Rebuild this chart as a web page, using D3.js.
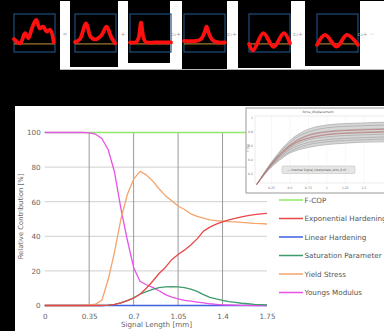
<!DOCTYPE html>
<html>
<head>
<meta charset="utf-8">
<script src="https://cdn.jsdelivr.net/npm/d3@7"></script>
<style>
  html, body { margin: 0; padding: 0; background: #000; }
  svg { display: block; }
  text { font-family: "DejaVu Sans", Verdana, sans-serif; }
</style>
</head>
<body>
<div id="chart"></div>
<script>
// Signal decomposition thumbnails: [x fraction, amplitude]
const signalTotal = [[0,0.16],[0.15,0.02],[0.27,0.36],[0.35,0.19],[0.44,0.53],[0.54,0.8],[0.63,0.52],[0.71,0.58],[0.8,0.41],[0.88,0.47],[0.97,0.06]];
const signalTerm0 = [[0,0.06],[0.12,0.16],[0.27,0.69],[0.38,0.24],[0.5,0.15],[0.65,0.3],[0.77,0.58],[0.88,0.24],[0.98,0.02]];
const signalTerm1 = [[0,0.05],[0.15,0.06],[0.21,0.2],[0.27,0.71],[0.33,0.2],[0.39,0.06],[0.6,0.05],[1,0.05]];
const signalTerm2 = [[0,0.1],[0.3,0.1],[0.42,0.17],[0.5,0.38],[0.55,0.58],[0.6,0.38],[0.68,0.15],[0.8,0.06],[1,0.05]];
const signalTerm3 = [[0,0.0],[0.1,-0.22],[0.35,0.36],[0.6,-0.1],[0.85,0.36],[1,0.02]];
const signalTerm4 = [[0,-0.03],[0.2,0.3],[0.48,-0.09],[0.73,0.3],[1,-0.03]];
const termLabels = ["\u2248", "+", "c\u2081+", "c\u2082+", "c\u2083+", "c\u2084+ \u00b7\u00b7\u00b7"];

// Main chart
const signalLength = [0,0.05,0.1,0.15,0.2,0.25,0.3,0.35,0.4,0.45,0.5,0.55,0.6,0.65,0.7,0.75,0.8,0.85,0.9,0.95,1.0,1.05,1.1,1.15,1.2,1.25,1.3,1.35,1.4,1.45,1.5,1.55,1.6,1.65,1.7,1.75];
const fCop =        [100,100,100,100,100,100,100,100,100,100,100,100,100,100,100,100,100,100,100,100,100,100,100,100,100,100,100,100,100,100,100,100,100,100,100,100];
const expHardening =[0,0,0,0,0,0,0,0,0,0,0.2,0.6,1.5,2.8,4.2,6.5,10,14,18.5,22,26.5,29.5,32,35,38.5,43,45.3,47,48.4,49.5,50.3,51.2,52,52.5,53,53.3];
const linHardening =[0,0,0,0,0,0,0,0,0,0,0,0,0,0,0,0,0,0,0,0,0,0,0,0,0,0,0,0,0,0,0,0,0,0,0,0];
const saturation =  [0,0,0,0,0,0,0,0,0,0,0.2,0.6,1.5,2.8,4.5,6.5,8,9.3,10.3,10.8,10.9,10.8,10.3,9.4,8.2,6.3,4.7,3.8,3,2.3,1.8,1.3,1.0,0.7,0.5,0.3];
const yieldStress = [0,0,0,0,0,0,0,0.3,0.8,3,15,31,50,64,73,77.5,75.5,72,67.5,63.5,60.5,57.5,55.5,53,51.5,50.5,49.5,49,48.8,48.5,48.3,48,47.8,47.5,47.3,47.1];
const youngs =      [100,100,100,100,100,100,100,99.8,99,96.5,90,77,56,38,22,14,12,10.5,8.5,6.3,4.8,3.8,3,2.5,2,1.5,1,0.7,0.4,0.3,0.2,0.1,0.1,0,0,0];
const xTicks = [0, 0.35, 0.7, 1.05, 1.4, 1.75];
const xTickLabels = ["0", "0.35", "0.7", "1.05", "1.4", "1.75"];
const yTicks = [0, 20, 40, 60, 80, 100];
const seriesNames = ["F-COP", "Exponential Hardening", "Linear Hardening", "Saturation Parameter", "Yield Stress", "Youngs Modulus"];
const seriesColors = ["#8ee86a", "#e8474b", "#3f5fe0", "#3f9a6c", "#f4a36a", "#e653e6"];

// Inset (force_displacement) curves
const insetX = [0.05,0.25,0.4,0.5,0.6,0.75,1.0,1.25,1.5,1.8];
const insetGray1 = [0.05,0.37,0.57,0.68,0.76,0.84,0.90,0.92,0.93,0.94];
const insetGray2 = [0.05,0.36,0.55,0.65,0.73,0.80,0.86,0.88,0.89,0.90];
const insetGray3 = [0.05,0.35,0.53,0.62,0.69,0.76,0.81,0.83,0.84,0.85];
const insetGray4 = [0.05,0.34,0.51,0.60,0.66,0.72,0.77,0.79,0.80,0.81];
const insetGray5 = [0.05,0.33,0.49,0.57,0.63,0.69,0.73,0.75,0.76,0.77];
const insetGray6 = [0.05,0.32,0.47,0.55,0.60,0.65,0.69,0.71,0.72,0.73];
const insetGray7 = [0.05,0.31,0.45,0.52,0.57,0.62,0.66,0.68,0.69,0.70];
const insetGray8 = [0.05,0.30,0.43,0.50,0.54,0.58,0.62,0.64,0.655,0.66];
const insetRed1 = [0.05,0.345,0.52,0.61,0.68,0.75,0.80,0.82,0.83,0.84];
const insetRed2 = [0.05,0.335,0.50,0.59,0.655,0.71,0.76,0.78,0.79,0.80];
const insetXTicks = [0.25, 0.5, 0.75, 1, 1.25, 1.5];
const insetYTicks = [0.2, 0.4, 0.6, 0.8, 1];

const W = 384, H = 331;
const svg = d3.select('#chart').append('svg').attr('width', W).attr('height', H);
svg.append('rect').attr('width', W).attr('height', H).attr('fill', '#000');

// ---- top strip ----
svg.append('rect').attr('x', 10).attr('y', 1).attr('width', W - 10).attr('height', 69).attr('fill', '#fff');
svg.append('line').attr('x1', 10).attr('x2', W).attr('y1', 69.5).attr('y2', 69.5).attr('stroke', '#bbb');

const blackPanels = [[0, 60, 70], [70, 118, 67], [128, 170, 63], [182, 227, 69], [238, 291, 68], [305, 360, 66]];
blackPanels.forEach(p => {
  svg.append('rect').attr('x', p[0]).attr('y', 0).attr('width', p[1] - p[0]).attr('height', p[2]).attr('fill', '#000');
});

const boxLefts = [14, 75, 130, 184, 249, 317];
const boxW = 41, boxTop = 14, boxBottom = 52;
const shapes = [signalTotal, signalTerm0, signalTerm1, signalTerm2, signalTerm3, signalTerm4];
const labelX = [65, 123, 176, 232, 298, 366];

shapes.forEach((shape, i) => {
  const px = d3.scaleLinear().domain([0, 1]).range([boxLefts[i], boxLefts[i] + boxW]);
  const py = d3.scaleLinear().domain([-0.27, 1]).range([boxBottom, boxTop]);
  const g = svg.append('g');
  g.append('rect').attr('x', boxLefts[i]).attr('y', boxTop).attr('width', boxW).attr('height', boxBottom - boxTop)
    .attr('fill', 'none').attr('stroke', '#1d4f7e').attr('stroke-width', 1.2);
  g.append('line').attr('x1', boxLefts[i]).attr('x2', boxLefts[i] + boxW).attr('y1', py(0)).attr('y2', py(0))
    .attr('stroke', '#c9943a').attr('stroke-width', 1);
  g.append('path').datum(shape)
    .attr('d', d3.line().x(d => px(d[0])).y(d => py(d[1])).curve(d3.curveCatmullRom))
    .attr('fill', 'none').attr('stroke', '#ff1010').attr('stroke-width', 3.8)
    .attr('stroke-linecap', 'round').attr('stroke-linejoin', 'round');
  svg.append('text').attr('x', labelX[i]).attr('y', 36).attr('text-anchor', 'middle')
    .attr('font-size', 5.5).attr('fill', '#999').text(termLabels[i]);
});

// ---- main chart ----
svg.append('rect').attr('x', 15).attr('y', 106).attr('width', W - 15).attr('height', H - 106).attr('fill', '#fff');

const x = d3.scaleLinear().domain([0, 1.75]).range([44.7, 267]);
const y = d3.scaleLinear().domain([0, 100]).range([305.5, 132.5]);

const g = svg.append('g');

// horizontal gridlines
g.selectAll('.hgrid').data(yTicks).enter().append('line')
  .attr('x1', x(0)).attr('x2', x(1.75)).attr('y1', d => y(d)).attr('y2', d => y(d))
  .attr('stroke', '#cfcfcf').attr('stroke-width', 1);
// vertical gridlines
g.selectAll('.vgrid').data(xTicks.slice(1, 5)).enter().append('line')
  .attr('x1', d => x(d)).attr('x2', d => x(d)).attr('y1', y(100)).attr('y2', y(0))
  .attr('stroke', '#9a9a9a').attr('stroke-width', 1);

// axes
const xAxis = g.append('g').attr('transform', `translate(0,${y(0)})`)
  .call(d3.axisBottom(x).tickValues(xTicks).tickSize(0).tickPadding(8).tickFormat((d, i) => xTickLabels[i]));
xAxis.select('.domain').remove();
xAxis.selectAll('text').attr('font-size', 7.2).attr('fill', '#666').style('font-family', '"DejaVu Sans", Verdana, sans-serif');

const yAxis = g.append('g').attr('transform', `translate(${x(0)},0)`)
  .call(d3.axisLeft(y).tickValues(yTicks).tickSize(0).tickPadding(4));
yAxis.select('.domain').remove();
yAxis.selectAll('text').attr('font-size', 7.2).attr('fill', '#666').style('font-family', '"DejaVu Sans", Verdana, sans-serif');

g.append('text').attr('x', 156.5).attr('y', 327).attr('text-anchor', 'middle')
  .attr('font-size', 7.2).attr('fill', '#666').text('Signal Length [mm]');
g.append('text').attr('transform', 'translate(23,216.5) rotate(-90)').attr('text-anchor', 'middle')
  .attr('font-size', 6.8).attr('fill', '#666').text('Relative Contribution [%]');

// series
const seriesValues = [fCop, expHardening, linHardening, saturation, yieldStress, youngs];
const line = d3.line().x((d, i) => x(signalLength[i])).y(d => y(d));
const drawOrder = [0, 2, 5, 3, 4, 1];
drawOrder.forEach(k => {
  g.append('path').datum(seriesValues[k]).attr('d', line)
    .attr('fill', 'none').attr('stroke', seriesColors[k]).attr('stroke-width', 1.3)
    .attr('stroke-linejoin', 'round');
});

// legend
const legend = g.append('g');
seriesNames.forEach((name, i) => {
  const ly = 200 + i * 18.5;
  legend.append('line').attr('x1', 279).attr('x2', 303).attr('y1', ly).attr('y2', ly)
    .attr('stroke', seriesColors[i]).attr('stroke-width', 1.5);
  legend.append('text').attr('x', 304.5).attr('y', ly + 2.6).attr('font-size', 7.2).attr('fill', '#555').text(name);
});

// ---- inset ----
const inset = svg.append('g');
inset.append('rect').attr('x', 246).attr('y', 108).attr('width', 150).attr('height', 85)
  .attr('fill', '#fff').attr('stroke', '#999').attr('stroke-width', 1);
inset.append('text').attr('x', 318).attr('y', 113).attr('text-anchor', 'middle')
  .attr('font-size', 3.2).attr('fill', '#555').text('force_displacement');

const ix = d3.scaleLinear().domain([0, 1.8]).range([253, 386]);
const iy = d3.scaleLinear().domain([0, 1.05]).range([188, 114.5]);

inset.append('rect').attr('x', 255).attr('y', 116).attr('width', 140).attr('height', 67)
  .attr('fill', 'none').attr('stroke', '#ddd').attr('stroke-width', 0.6);
inset.selectAll('.ig').data(insetXTicks).enter().append('line')
  .attr('x1', d => ix(d)).attr('x2', d => ix(d)).attr('y1', 116).attr('y2', 183)
  .attr('stroke', '#eee').attr('stroke-width', 0.5);

const insetLine = d3.line().x((d, i) => ix(insetX[i])).y(d => iy(d)).curve(d3.curveMonotoneX);
const band = d3.area().x((d, i) => ix(insetX[i])).y0((d, i) => iy(insetGray8[i])).y1(d => iy(d)).curve(d3.curveMonotoneX);
inset.append('path').datum(insetGray1).attr('d', band).attr('fill', '#d6d6d6');
[insetGray1, insetGray2, insetGray3, insetGray4, insetGray5, insetGray6, insetGray7, insetGray8].forEach(c => {
  inset.append('path').datum(c).attr('d', insetLine).attr('fill', 'none').attr('stroke', '#9d9d9d').attr('stroke-width', 0.6);
});
[insetRed1, insetRed2].forEach(c => {
  inset.append('path').datum(c).attr('d', insetLine).attr('fill', 'none').attr('stroke', '#c06a6a').attr('stroke-width', 0.7);
});

inset.selectAll('.ixt').data(insetXTicks).enter().append('text')
  .attr('x', d => ix(d)).attr('y', 189).attr('text-anchor', 'middle')
  .attr('font-size', 3.2).attr('fill', '#777').text(d => d);
inset.selectAll('.iyt').data(insetYTicks).enter().append('text')
  .attr('x', 253).attr('y', d => iy(d) + 1).attr('text-anchor', 'end')
  .attr('font-size', 3.2).attr('fill', '#777').text(d => d);
inset.append('text').attr('transform', 'translate(249,148) rotate(-90)').attr('text-anchor', 'middle')
  .attr('font-size', 3.2).attr('fill', '#777').text('F [N]');

inset.append('rect').attr('x', 282).attr('y', 166).attr('width', 73).attr('height', 7.5).attr('rx', 1)
  .attr('fill', '#e6e6e6').attr('stroke', '#bbb').attr('stroke-width', 0.5);
inset.append('text').attr('x', 318.5).attr('y', 171).attr('text-anchor', 'middle')
  .attr('font-size', 3).attr('fill', '#555').text('\u2014 Internal Signal_interpolate_shot_0 of ...');
</script>
</body>
</html>
